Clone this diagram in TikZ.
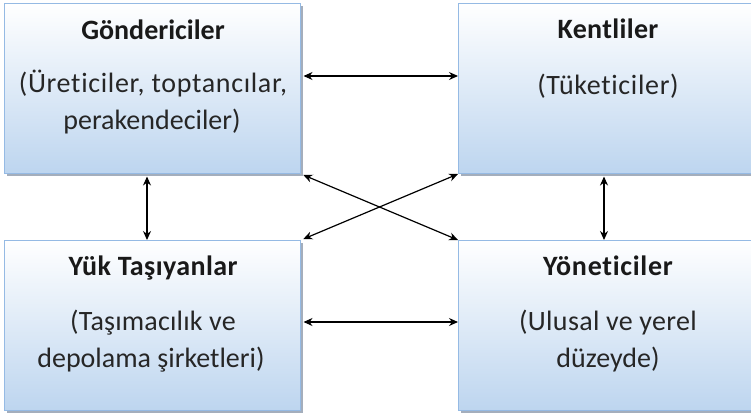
\documentclass[tikz,border=0pt]{standalone}
\usepackage{fontspec}
\setmainfont[Ligatures=NoCommon]{Carlito}
\usetikzlibrary{arrows.meta,shadows}
\definecolor{boxblue}{HTML}{BDD5EF}
\definecolor{boxline}{HTML}{95BAE4}
\definecolor{shadowc}{HTML}{A4AEBC}
\newcommand{\spc}[1]{\addfontfeature{LetterSpace=#1}}
\begin{document}
\begin{tikzpicture}[x=1pt,y=-1pt,
 boxstyle/.style={draw=boxline, line width=1pt, top color=white, bottom color=boxblue,
   minimum width=296pt, minimum height=170pt, anchor=north west, inner sep=0pt,
   drop shadow={shadow xshift=2pt, shadow yshift=-2pt, fill=shadowc, opacity=1}},
 titlestyle/.style={font=\fontsize{28}{37}\selectfont\bfseries, text=black!90, anchor=base, inner sep=0pt},
 bodystyle/.style={font=\fontsize{28}{37}\selectfont, text=black!85, anchor=base, inner sep=0pt},
 link/.style={{Stealth[length=9pt,width=8pt]}-{Stealth[length=9pt,width=8pt]}, line width=1.2pt, black}]
\useasboundingbox (0,0) rectangle (751,418);
\node[boxstyle] (A) at (4,3) {};
\node[boxstyle] (B) at (458,3) {};
\node[boxstyle] (C) at (4,240) {};
\node[boxstyle] (D) at (458,240) {};

\node[titlestyle] (At) at (153,39) {Göndericiler};
\node[bodystyle] (Ab1) at (153,92) {\spc{2.4}(Üreticiler, toptancılar,};
\node[bodystyle] (Ab2) at (152,129) {perakendeciler)};

\node[titlestyle] (Bt) at (608,38) {\spc{1.2}Kentliler};
\node[bodystyle] (Bb1) at (608,94) {\spc{2.4}(Tüketiciler)};

\node[titlestyle] (Ct) at (153,275) {\spc{1.5}Yük Taşıyanlar};
\node[bodystyle] (Cb1) at (153,330) {\spc{0.7}(Taşımacılık ve};
\node[bodystyle] (Cb2) at (151,367) {depolama şirketleri)};

\node[titlestyle] (Dt) at (608,275) {\spc{2.6}Yöneticiler};
\node[bodystyle] (Db1) at (608,330) {\spc{1.2}(Ulusal ve yerel};
\node[bodystyle] (Db2) at (608,367) {düzeyde)};

\draw[link, shorten <=2.5pt] (A.east |- 0,76) -- (B.west |- 0,76);
\draw[link, shorten <=2.5pt] (C.east |- 0,322) -- (D.west |- 0,322);
\draw[link, shorten <=2.5pt] (A.south -| 147,0) -- (C.north -| 147,0);
\draw[link, shorten <=2.5pt] (B.south -| 604,0) -- (D.north -| 604,0);
\draw[link, shorten <=2.5pt] (A.south east) -- (D.north west);
\draw[link, shorten >=2.5pt] (B.south west) -- (C.north east);
\end{tikzpicture}
\end{document}
